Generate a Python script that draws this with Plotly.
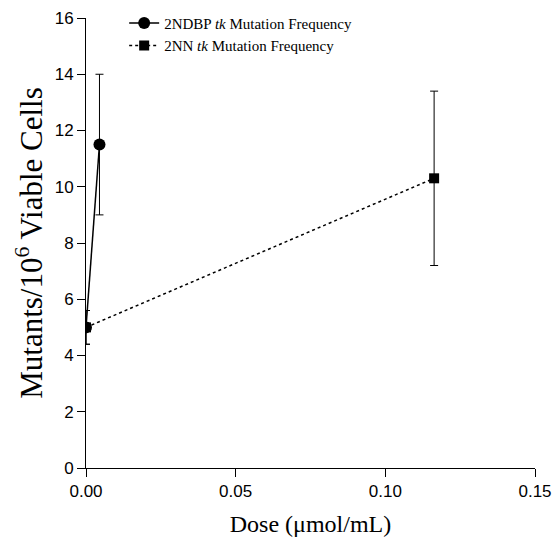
import plotly.graph_objects as go

ndbp_dose = [0.0, 0.0045]
ndbp_freq = [5.0, 11.5]
ndbp_err = [0.6, 2.5]

nn_dose = [0.0, 0.1163]
nn_freq = [5.0, 10.3]
nn_err = [0.6, 3.1]

x_ticks = [0.0, 0.05, 0.10, 0.15]
x_tick_labels = ["0.00", "0.05", "0.10", "0.15"]
y_ticks = [0, 2, 4, 6, 8, 10, 12, 14, 16]

fig = go.Figure()
fig.add_trace(go.Scatter(
    x=ndbp_dose, y=ndbp_freq, mode="lines+markers",
    name="2NDBP <i>tk</i> Mutation Frequency",
    line=dict(color="black", width=1.5, dash="solid"),
    marker=dict(symbol="circle", size=12, color="black"),
    error_y=dict(type="data", array=ndbp_err, visible=True, color="black", thickness=1, width=4),
))
fig.add_trace(go.Scatter(
    x=nn_dose, y=nn_freq, mode="lines+markers",
    name="2NN <i>tk</i> Mutation Frequency",
    line=dict(color="black", width=1.5, dash="dot"),
    marker=dict(symbol="square", size=10, color="black"),
    error_y=dict(type="data", array=nn_err, visible=True, color="black", thickness=1, width=4),
))

fig.update_layout(
    width=555, height=540,
    margin=dict(l=86, r=20, t=18, b=72, autoexpand=False),
    plot_bgcolor="white", paper_bgcolor="white",
    showlegend=True,
    legend=dict(x=0.085, y=1.025, xanchor="left", yanchor="top",
                font=dict(family="Liberation Serif", size=15, color="black"),
                bgcolor="rgba(0,0,0,0)", tracegroupgap=0, itemwidth=30),
    font=dict(family="Liberation Sans", color="black"),
)
fig.update_xaxes(
    range=[0, 0.15], tickvals=x_ticks, ticktext=x_tick_labels,
    showline=True, linecolor="black", linewidth=1,
    ticks="outside", ticklen=8, tickcolor="black",
    showgrid=False, zeroline=False, automargin=False,
    tickfont=dict(family="Liberation Sans", size=17),
    title=dict(text="Dose (μmol/mL)", font=dict(family="Liberation Serif", size=24), standoff=14),
)
fig.update_yaxes(
    range=[0, 16], tickvals=y_ticks,
    showline=True, linecolor="black", linewidth=1,
    ticks="outside", ticklen=8, tickcolor="black",
    showgrid=False, zeroline=False, automargin=False,
    tickfont=dict(family="Liberation Sans", size=17),
    title=dict(text="Mutants/10<sup>6</sup> Viable Cells", font=dict(family="Liberation Serif", size=31), standoff=2),
)

fig.write_html("out.html")
